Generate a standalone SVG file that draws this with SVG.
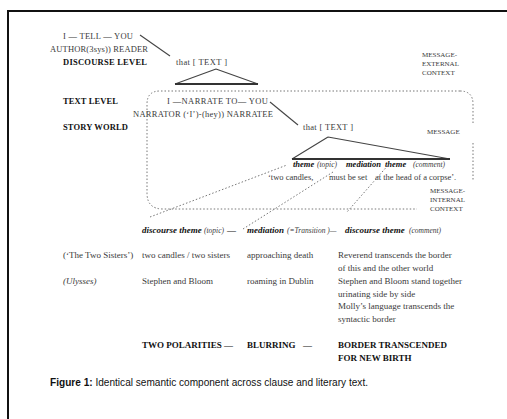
<svg xmlns="http://www.w3.org/2000/svg" width="507" height="419" viewBox="0 0 507 419">
<style>
text{font-family:"Liberation Serif","Times New Roman",serif;font-size:9px;fill:#3a3a3a}
.b{font-weight:bold;fill:#111}
.bi{font-weight:bold;font-style:italic;fill:#111}
.i{font-style:italic}
.p{font-style:italic;font-size:7.5px}
.s{font-size:7px}
.m{font-size:8.5px}
.cap{font-family:"Liberation Sans",Arial,sans-serif;font-size:10px;fill:#111}
.solid{stroke:#444;stroke-width:1.1;fill:none}
.base{stroke:#333;stroke-width:1.8;fill:none}
.dot{stroke:#777;stroke-width:1;fill:none;stroke-dasharray:1.5 2}
</style>
<rect x="8" y="11" width="600" height="500" fill="none" stroke="#111" stroke-width="2"/>

<g id="discourse">
<text class="m" x="63" y="39" textLength="70">I — TELL — YOU</text>
<text class="m" x="50" y="52" textLength="98">AUTHOR(3sys)) READER</text>
<text class="b m" x="63" y="65" textLength="84">DISCOURSE LEVEL</text>
<text class="m" x="176" y="65" textLength="51">that [ TEXT ]</text>
</g>
<g id="external">
<text class="s" x="422" y="57">MESSAGE-</text>
<text class="s" x="422" y="66">EXTERNAL</text>
<text class="s" x="422" y="75">CONTEXT</text>
</g>
<g id="textlevel">
<text class="b m" x="63" y="104" textLength="55">TEXT LEVEL</text>
<text class="m" x="167" y="104" textLength="101">I —NARRATE TO— YOU</text>
<text class="m" x="133" y="117" textLength="140">NARRATOR (‘I’)-(hey)) NARRATEE</text>
<text class="b m" x="63" y="130" textLength="65">STORY WORLD</text>
<text class="m" x="303" y="130" textLength="50">that [ TEXT ]</text>
<text class="s" x="427" y="134">MESSAGE</text>
</g>
<g id="story">
<text class="m" y="167"><tspan class="bi" x="293">theme</tspan><tspan class="p" x="317">(topic)</tspan><tspan class="bi" x="346">mediation</tspan><tspan class="bi" x="385">theme</tspan><tspan class="p" x="413">(comment)</tspan></text>
<text class="m" y="180"><tspan x="268">‘two candles,</tspan><tspan x="329">must be set</tspan><tspan x="375">at the head of a corpse’.</tspan></text>
</g>
<g id="internal">
<text class="s" x="430" y="193">MESSAGE-</text>
<text class="s" x="430" y="202">INTERNAL</text>
<text class="s" x="430" y="211">CONTEXT</text>
</g>
<g id="header">
<text y="233"><tspan class="bi" x="142">discourse theme</tspan><tspan class="p" x="204">(topic)</tspan><tspan class="b" x="227">—</tspan><tspan class="bi" x="247">mediation</tspan><tspan class="p" x="287">(=Transition )—</tspan><tspan class="bi" x="345">discourse theme</tspan><tspan class="p" x="409">(comment)</tspan></text>
</g>
<g id="sisters">
<text x="63" y="258">(‘The Two Sisters’)</text>
<text x="142" y="258">two candles / two sisters</text>
<text x="247" y="258">approaching death</text>
<text x="338" y="258">Reverend transcends the border</text>
<text x="338" y="271">of this and the other world</text>
</g>
<g id="ulysses">
<text class="i" x="63" y="284">(Ulysses)</text>
<text x="142" y="284">Stephen and Bloom</text>
<text x="247" y="284">roaming in Dublin</text>
<text x="338" y="284">Stephen and Bloom stand together</text>
<text x="338" y="297">urinating side by side</text>
<text x="338" y="309">Molly’s language transcends the</text>
<text x="338" y="322">syntactic border</text>
</g>
<g id="summary">
<text class="b" x="142" y="348">TWO POLARITIES —</text>
<text class="b" x="247" y="348">BLURRING</text>
<text class="b" x="303" y="348">—</text>
<text class="b" x="338" y="348">BORDER TRANSCENDED</text>
<text class="b" x="338" y="361">FOR NEW BIRTH</text>
</g>
<g id="caption">
<text class="cap" x="50" y="386" textLength="318" lengthAdjust="spacingAndGlyphs"><tspan font-weight="bold">Figure 1:</tspan> Identical semantic component across clause and literary text.</text>
</g>

<g id="connectors">
<line class="solid" x1="140" y1="35" x2="170" y2="56"/>
<path class="solid" d="M216 69 L175 84 M216 69 L258 84"/>
<line class="base" x1="175" y1="84" x2="258" y2="84"/>
<line class="solid" x1="270" y1="102" x2="298" y2="125"/>
<path class="solid" d="M328 137 L292 159 M328 137 L450 159"/>
<line class="base" x1="292" y1="159" x2="450" y2="159"/>
<path class="dot" d="M460 91 L160 91 Q147 91 147 104 L147 193 Q147 209 163 209 L417 209"/>
<path class="dot" d="M460 91 Q473 91 473 104 L473 123"/>
<path class="dot" d="M473 143 L473 180"/>
<line class="dot" x1="150" y1="217" x2="287" y2="165"/>
<line class="dot" x1="333" y1="172" x2="243" y2="229"/>
<line class="dot" x1="390" y1="163" x2="347" y2="212"/>
</g>
</svg>
